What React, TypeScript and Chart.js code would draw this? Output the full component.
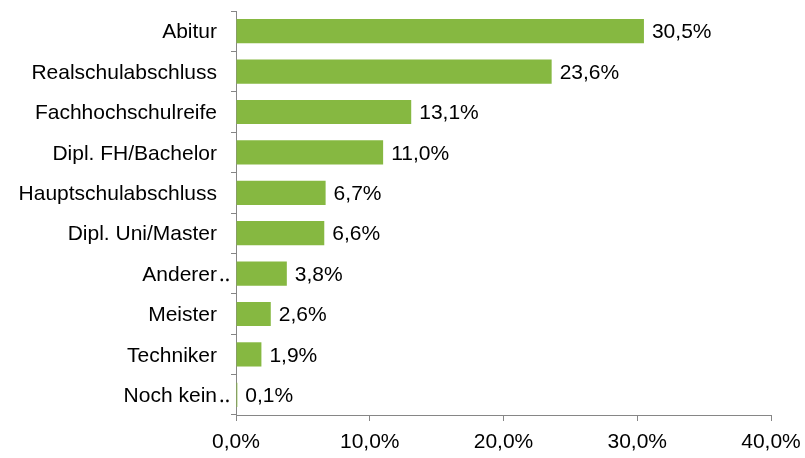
import React, { useEffect, useRef } from "react";
import { Chart, registerables } from "chart.js";

Chart.register(...registerables);

const categories = [
  "Abitur",
  "Realschulabschluss",
  "Fachhochschulreife",
  "Dipl. FH/Bachelor",
  "Hauptschulabschluss",
  "Dipl. Uni/Master",
  "Anderer‥",
  "Meister",
  "Techniker",
  "Noch kein‥",
];
const values = [30.5, 23.6, 13.1, 11.0, 6.7, 6.6, 3.8, 2.6, 1.9, 0.1];
const xTicks = [0, 10, 20, 30, 40];

const fmt = (v: number) => v.toFixed(1).replace(".", ",") + "%";
const FONT = "'Liberation Sans', Arial, sans-serif";
const FSIZE = 21;
const DOTS = "‥";

const labelPlugin = {
  id: "barLabels",
  afterDatasetsDraw(chart: any) {
    const ctx = chart.ctx;
    const meta = chart.getDatasetMeta(0);
    const yScale = chart.scales.y;
    ctx.save();
    ctx.font = `${FSIZE}px ${FONT}`;
    ctx.fillStyle = "#000";
    ctx.textBaseline = "middle";
    ctx.textAlign = "left";
    meta.data.forEach((bar: any, i: number) => {
      ctx.fillText(fmt(values[i]), bar.x + 8, bar.y + 1.5);
    });
    // trailing dots of truncated category labels overflow to the right
    categories.forEach((c, i) => {
      if (c.endsWith(DOTS)) {
        const y = yScale.getPixelForValue(i);
        ctx.fillText(DOTS, yScale.right - 5 - 14 + 2, y + 1.5);
      }
    });
    ctx.restore();
  },
};

export default function App() {
  const ref = useRef<HTMLCanvasElement>(null);
  useEffect(() => {
    if (!ref.current) return;
    const chart = new Chart(ref.current, {
      type: "bar",
      data: {
        labels: categories,
        datasets: [
          {
            data: values,
            backgroundColor: "#86B841",
            borderWidth: 0,
            categoryPercentage: 1,
            barPercentage: 0.6,
          },
        ],
      },
      options: {
        indexAxis: "y",
        animation: false,
        responsive: true,
        maintainAspectRatio: false,
        layout: { padding: { top: 11, right: 34, left: 0, bottom: 0 } },
        plugins: { legend: { display: false }, tooltip: { enabled: false } },
        scales: {
          x: {
            min: 0,
            max: 40,
            afterBuildTicks: (s: any) => {
              s.ticks = xTicks.map((v) => ({ value: v }));
            },
            afterFit: (s: any) => {
              s.height = 43;
              s.paddingLeft = 0;
              s.paddingRight = 0;
            },
            grid: {
              drawOnChartArea: false,
              drawTicks: true,
              tickLength: 6,
              color: "#868686",
            },
            border: { color: "#868686", width: 1 },
            ticks: {
              color: "#000",
              font: { family: FONT, size: FSIZE },
              padding: 9,
              maxRotation: 0,
              callback: (v: any) => fmt(Number(v)),
            },
          },
          y: {
            afterFit: (s: any) => {
              s.width = 236;
              s.paddingTop = 0;
              s.paddingBottom = 0;
            },
            grid: {
              drawOnChartArea: false,
              drawTicks: true,
              tickLength: 5,
              color: "#868686",
              offset: true,
            },
            border: { color: "#868686", width: 1 },
            ticks: {
              color: "#000",
              font: { family: FONT, size: FSIZE },
              padding: 14,
              labelOffset: 1.5,
              autoSkip: false,
              callback: (_v: any, i: number) => categories[i].replace(DOTS, ""),
            },
          },
        },
      },
      plugins: [labelPlugin],
    });
    return () => chart.destroy();
  }, []);
  return (
    <div style={{ position: "fixed", left: 0, top: 0, width: 805, height: 458, background: "#fff" }}>
      <canvas ref={ref} />
    </div>
  );
}
